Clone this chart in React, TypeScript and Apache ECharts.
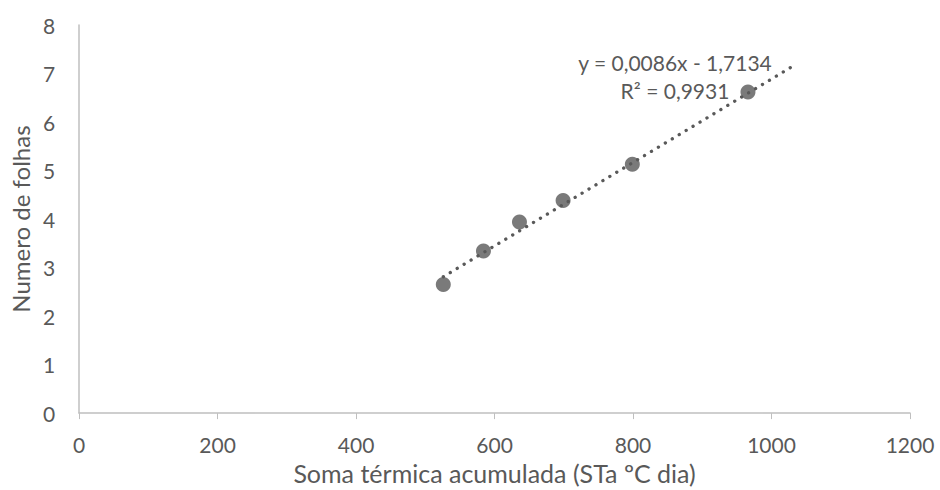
import React, { useEffect, useRef } from "react";
import * as echarts from "echarts";

const somaTermica = [526, 584, 636, 699, 799, 966];
const numeroFolhas = [2.65, 3.34, 3.94, 4.38, 5.13, 6.62];
const slope = 0.0086;
const intercept = -1.7134;
const trendStart = 526;
const trendEnd = 1032;
const xTicks = [0, 200, 400, 600, 800, 1000, 1200];
const yTicks = [0, 1, 2, 3, 4, 5, 6, 7, 8];
const equationText = "y = 0,0086x - 1,7134";
const r2Text = "R² = 0,9931";

const FONT = "Lato, 'Open Sans', sans-serif";
const GRAY = "#595959";

export default function App() {
  const ref = useRef<HTMLDivElement>(null);
  useEffect(() => {
    if (!ref.current) return;
    const chart = echarts.init(ref.current, undefined, { renderer: "svg" });
    const trend = [trendStart, trendEnd].map((x) => [x, slope * x + intercept]);
    chart.setOption({
      animation: false,
      grid: { left: 79, right: 30, top: 25, bottom: 65 },
      xAxis: {
        type: "value",
        min: xTicks[0],
        max: xTicks[xTicks.length - 1],
        interval: 200,
        name: "Soma térmica acumulada (STa ºC dia)",
        nameLocation: "middle",
        nameGap: 42,
        nameTextStyle: { color: GRAY, fontSize: 25, fontFamily: FONT },
        axisLine: { lineStyle: { color: "#bfbfbf", width: 1.5 } },
        axisTick: { show: true, length: 6, lineStyle: { color: "#bfbfbf" } },
        axisLabel: {
          color: GRAY,
          fontSize: 21,
          fontFamily: FONT,
          margin: 21,
          formatter: (v: number) => String(v),
        },
        splitLine: { show: false },
      },
      yAxis: {
        type: "value",
        min: yTicks[0],
        max: yTicks[yTicks.length - 1],
        interval: 1,
        name: "Numero de folhas",
        nameLocation: "middle",
        nameGap: 46,
        nameTextStyle: { color: GRAY, fontSize: 24, fontFamily: FONT },
        axisLine: { show: true, lineStyle: { color: "#bfbfbf", width: 1.5 } },
        axisTick: { show: false },
        axisLabel: { color: GRAY, fontSize: 21, fontFamily: FONT, margin: 24 },
        splitLine: { show: false },
      },
      graphic: [
        {
          type: "text",
          x: 675,
          y: 62,
          style: {
            text: equationText,
            fill: GRAY,
            font: `21px ${FONT}`,
            align: "center",
            verticalAlign: "middle",
          },
        },
        {
          type: "text",
          x: 675,
          y: 90,
          style: {
            text: r2Text,
            fill: GRAY,
            font: `21px ${FONT}`,
            align: "center",
            verticalAlign: "middle",
          },
        },
      ],
      series: [
        {
          type: "line",
          data: trend,
          showSymbol: false,
          symbol: "none",
          lineStyle: { color: GRAY, width: 3.3, type: [0.1, 8], cap: "round" },
          z: 1,
        },
        {
          type: "scatter",
          data: somaTermica.map((x, i) => [x, numeroFolhas[i]]),
          symbolSize: 15,
          itemStyle: { color: GRAY },
          z: 2,
        },
      ],
    });
    return () => chart.dispose();
  }, []);
  return (
    <div
      ref={ref}
      style={{ position: "absolute", left: 0, top: 0, width: 940, height: 490 }}
    />
  );
}
